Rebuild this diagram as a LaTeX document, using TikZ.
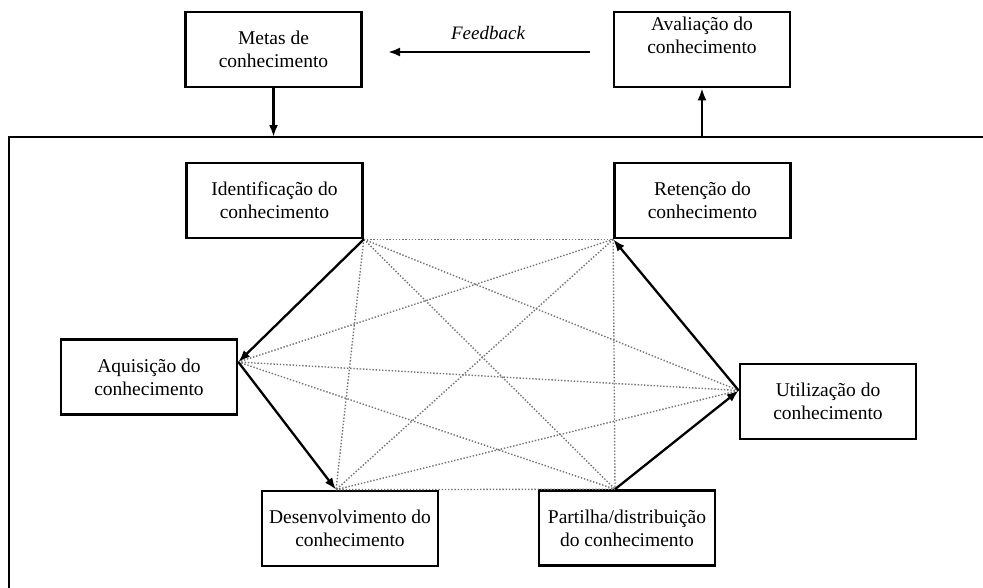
\documentclass[tikz,border=0pt]{standalone}
\usepackage{fontspec}
\setmainfont{Liberation Serif}
\usetikzlibrary{arrows.meta}
\begin{document}
\begin{tikzpicture}[x=1pt,y=-1pt,
  box/.style={draw, line width=2.6pt, minimum width=176pt, minimum height=75pt,
    inner sep=0pt, align=center, font=\fontsize{19.5}{23}\selectfont},
  flow/.style={line width=2.3pt, -{Latex[length=12pt,width=9pt]}},
  link/.style={black!55, line width=1.4pt, dash pattern=on 1.4pt off 1.8pt},
  frame/.style={line width=2.6pt}]
\useasboundingbox (0,0) rectangle (983,587);

% boxes
\node[box] (metas) at (273.5,49.5) {Metas de\\conhecimento};
\node[box] (aval)  at (702,49.5)   {Avaliação do\\conhecimento\\[6pt]};
\node[box] (ident) at (274.5,200.5) {Identificação do\\conhecimento};
\node[box] (ret)   at (702.5,200.5) {Retenção do\\conhecimento};
\node[box] (aq)    at (149,377)    {Aquisição do\\conhecimento};
\node[box] (ut)    at (828,401.5)  {Utilização do\\conhecimento};
\node[box] (des)   at (350,528.5)  {Desenvolvimento do\\conhecimento};
\node[box] (par)   at (627,528)    {Partilha/distribuição\\do conhecimento};

% outer frame
\coordinate (fTR) at (986,137);
\coordinate (fTL) at (9,137);
\coordinate (fBL) at (9,590);
\draw[frame] (fTR) -- (fTL) -- (fBL);

% feedback
\coordinate (fbS) at (590,52);
\coordinate (fbE) at (388,52);
\draw[flow] (fbS) -- (fbE);
\node[font=\fontsize{19}{23}\selectfont\itshape] (fbl) at (488,33) {Feedback};

% top arrows
\draw[flow] (metas.south) -- (metas.south |- fTL);
\draw[flow] (aval.south |- fTL) -- (aval.south);

% vertices
\coordinate (vI) at (ident.south east);
\coordinate (vR) at (ret.south west);
\coordinate (vA) at ([yshift=15pt]aq.east);
\coordinate (vU) at ([yshift=11pt]ut.west);
\coordinate (vD) at ([xshift=-14pt]des.north);
\coordinate (vP) at ([xshift=-12pt]par.north);

% dotted links
\foreach \a/\b in {vI/vR, vI/vU, vI/vD, vI/vP, vR/vA, vR/vD, vR/vP, vA/vU, vA/vP, vD/vP, vD/vU}
  \draw[link] (\a) -- (\b);

% solid cycle
\draw[flow] (vI) -- (vA);
\draw[flow] (vA) -- (vD);
\draw[flow] (vP) -- (vU);
\draw[flow] (vU) -- (vR);
\end{tikzpicture}
\end{document}
